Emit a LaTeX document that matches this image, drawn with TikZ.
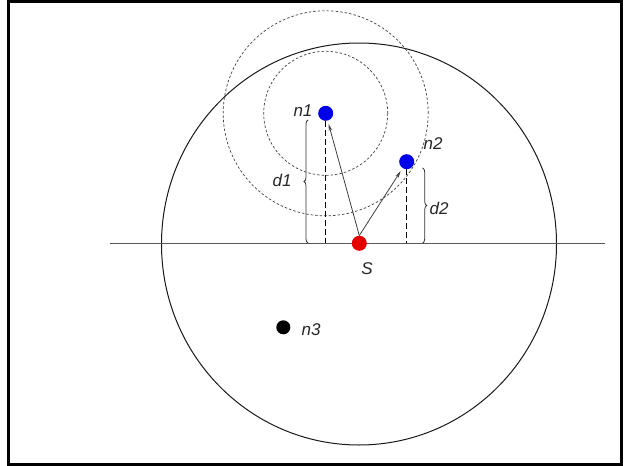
\documentclass[tikz,border=0pt]{standalone}
\usepackage{fontspec}
\setmainfont{Liberation Sans}
\usetikzlibrary{arrows.meta,decorations.pathreplacing}
\begin{document}
\begin{tikzpicture}[x=1pt,y=-1pt,
  dot/.style={circle,inner sep=0pt,minimum size=15pt},
  lbl/.style={font=\fontsize{17}{20}\selectfont\itshape,text=black!85,inner sep=0pt},
  rangecirc/.style={draw=black!75,line width=0.7pt,dash pattern=on 2.5pt off 2pt},
  dropline/.style={draw=black,line width=1.4pt,dash pattern=on 6pt off 3pt},
  brc/.style={draw=black!80,line width=0.8pt,decorate,decoration={brace,amplitude=4pt}},
  arr/.style={draw=black!75,line width=0.8pt,-{Stealth[length=7pt,width=3.5pt]},shorten >=3.5pt}]
\useasboundingbox (0,0) rectangle (627,466);
\draw[line width=3pt] (8.5,1.5) rectangle (621.5,464.5);
% positions
\coordinate (c1) at (325.7,113.3);
\coordinate (cS) at (359.3,243.3);
\coordinate (hl) at (110,243.3);
\coordinate (hr) at (605,243.3);
% big range circle
\draw[black!90,line width=1pt] (359,244) ellipse [x radius=197.5pt, y radius=201pt];
% horizontal line
\draw[black!65,line width=1pt] (hl) -- (hr);
% dashed ranges around n1
\draw[rangecirc] (c1) circle [radius=62pt];
\draw[rangecirc] (c1) circle [radius=102.5pt];
% nodes
\node[dot,fill=blue!92!black] (n1) at (c1) {};
\node[dot,fill=blue!92!black] (n2) at (406.7,161.7) {};
\node[dot,fill=red!90!black] (S) at (cS) {};
\node[dot,fill=black,minimum size=14pt] (n3) at (283.3,327.3) {};
% drop lines
\draw[dropline] (n1.south) -- (n1 |- S);
\draw[dropline] (n2.south) -- (n2 |- S);
% braces
\coordinate (b1a) at (308,243);
\coordinate (b1b) at (308,120);
\coordinate (b2a) at (422.7,168);
\coordinate (b2b) at (422.7,243);
\draw[brc] (b1a) -- (b1b);
\draw[brc] (b2a) -- (b2b);
% arrows
\draw[arr] (S.north) -- (n1);
\draw[arr] (S.north) -- (n2);
% labels
\node[lbl] (ln1) at (303,111) {n1};
\node[lbl] (ln2) at (433,144) {n2};
\node[lbl] (ld1) at (282,180) {d1};
\node[lbl] (ld2) at (439,208) {d2};
\node[lbl] (lS) at (367,269) {S};
\node[lbl] (ln3) at (311,330) {n3};
\end{tikzpicture}
\end{document}
